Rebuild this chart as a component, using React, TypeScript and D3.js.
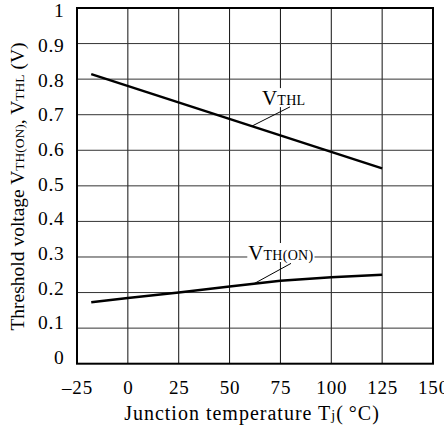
import React, { useEffect, useRef } from 'react';
import * as d3 from 'd3';

// temperature (°C) vs threshold voltage (V)
const tempThl = [-18, 125];
const vThl = [0.814, 0.549];
const tempOn = [-18, 0, 25, 50, 75, 100, 125];
const vOn = [0.173, 0.185, 0.2, 0.217, 0.233, 0.243, 0.25];

const xTicks = [-25, 0, 25, 50, 75, 100, 125, 150];
const yTicks = [0, 0.1, 0.2, 0.3, 0.4, 0.5, 0.6, 0.7, 0.8, 0.9, 1];

// label annotations: text anchor + leader line, in data coords
const labels = [
    { main: 'V', sub: 'THL', at: [66, 0.727], lead: [[79.7, 0.722], [61, 0.668]] },
    { main: 'V', sub: 'TH(ON)', at: [59.2, 0.2915], lead: [[80.2, 0.282], [61.7, 0.224]] },
];

const FONT = '"Liberation Serif", "Times New Roman", serif';

export default function App() {
    const ref = useRef<SVGSVGElement>(null);

    useEffect(() => {
        const width = 444;
        const height = 430;
        const left = 77, right = 433, top = 8, bottom = 363.7;

        const svg = d3.select(ref.current);
        svg.selectAll('*').remove();

        const x = d3.scaleLinear().domain([-25, 150]).range([left, right]);
        const y = d3.scaleLinear().domain([0, 1]).range([bottom, top]);
        // the tick labels in the original sit on a slightly tighter pitch than the grid
        const yLabel = d3.scaleLinear().domain([0, 1]).range([364, 17.3]);

        svg.append('rect').attr('width', width).attr('height', height).attr('fill', 'white');

        // grid
        svg.append('g').selectAll('line')
            .data(xTicks.slice(1, -1))
            .enter().append('line')
            .attr('x1', d => x(d)).attr('x2', d => x(d))
            .attr('y1', top).attr('y2', bottom)
            .attr('stroke', '#111').attr('stroke-width', 1);
        svg.append('g').selectAll('line')
            .data(yTicks.slice(1, -1))
            .enter().append('line')
            .attr('x1', left).attr('x2', right)
            .attr('y1', d => y(d)).attr('y2', d => y(d))
            .attr('stroke', '#333').attr('stroke-width', 1);

        // tick labels
        svg.append('g').selectAll('text')
            .data(yTicks)
            .enter().append('text')
            .attr('x', 64.5)
            .attr('y', d => yLabel(d))
            .attr('text-anchor', 'end')
            .style('font-family', FONT)
            .style('font-size', '19.5px')
            .style('letter-spacing', '0.7px')
            .text(d => (d === 0 || d === 1 ? String(d) : d.toFixed(1)));

        svg.append('g').selectAll('text')
            .data(xTicks)
            .enter().append('text')
            .attr('x', d => x(d) + 0.5)
            .attr('y', 393.5)
            .attr('text-anchor', 'middle')
            .style('font-family', FONT)
            .style('font-size', '19px')
            .style('letter-spacing', '0.8px')
            .text(d => (d < 0 ? '\u2013' + Math.abs(d) : String(d)));

        // curves
        const line = d3.line<[number, number]>().x(d => x(d[0])).y(d => y(d[1]));
        svg.append('path')
            .datum(tempThl.map((t, i) => [t, vThl[i]] as [number, number]))
            .attr('d', line)
            .attr('fill', 'none').attr('stroke', 'black').attr('stroke-width', 2.5);
        svg.append('path')
            .datum(tempOn.map((t, i) => [t, vOn[i]] as [number, number]))
            .attr('d', line)
            .attr('fill', 'none').attr('stroke', 'black').attr('stroke-width', 2.5);

        // curve labels with white boxes
        labels.forEach(l => {
            const g = svg.append('g');
            const bg = g.append('rect').attr('fill', 'white');
            const bx = x(l.at[0]);
            const by = y(l.at[1]);
            const t = g.append('text')
                .attr('x', bx)
                .attr('y', by)
                .style('font-family', FONT);
            t.append('tspan').style('font-size', '21px').text(l.main);
            t.append('tspan').style('font-size', '14px').style('letter-spacing', '0.3px').text(l.sub);
            const bb = (t.node() as SVGTextElement).getBBox();
            bg.attr('x', bb.x - 1).attr('y', by - 17)
                .attr('width', bb.width + 2).attr('height', 19);
            g.append('line')
                .attr('x1', x(l.lead[0][0])).attr('y1', y(l.lead[0][1]))
                .attr('x2', x(l.lead[1][0])).attr('y2', y(l.lead[1][1]))
                .attr('stroke', 'black').attr('stroke-width', 1);
        });

        // frame
        svg.append('rect')
            .attr('x', left).attr('y', top)
            .attr('width', right - left).attr('height', bottom - top)
            .attr('fill', 'none').attr('stroke', 'black').attr('stroke-width', 2);

        // axis titles
        const xt = svg.append('text')
            .attr('x', 252)
            .attr('y', 420)
            .attr('text-anchor', 'middle')
            .style('font-family', FONT)
            .style('font-size', '20px')
            .style('letter-spacing', '1px');
        xt.append('tspan').text('Junction temperature T');
        xt.append('tspan').style('font-size', '14px').text('j');
        xt.append('tspan').text('(\u2009\u00B0C)');

        const yt = svg.append('text')
            .attr('transform', `translate(24, 186.5) rotate(-90)`)
            .attr('text-anchor', 'middle')
            .style('font-family', FONT)
            .style('font-size', '19.5px');
        yt.append('tspan').text('Threshold voltage V');
        yt.append('tspan').style('font-size', '13.5px').text('TH(ON)');
        yt.append('tspan').text(', V');
        yt.append('tspan').style('font-size', '13.5px').text('THL');
        yt.append('tspan').text(' (V)');
    }, []);

    return (
        <svg ref={ref} width={444} height={430}
            style={{ position: 'absolute', left: 0, top: 0, display: 'block' }} />
    );
}
